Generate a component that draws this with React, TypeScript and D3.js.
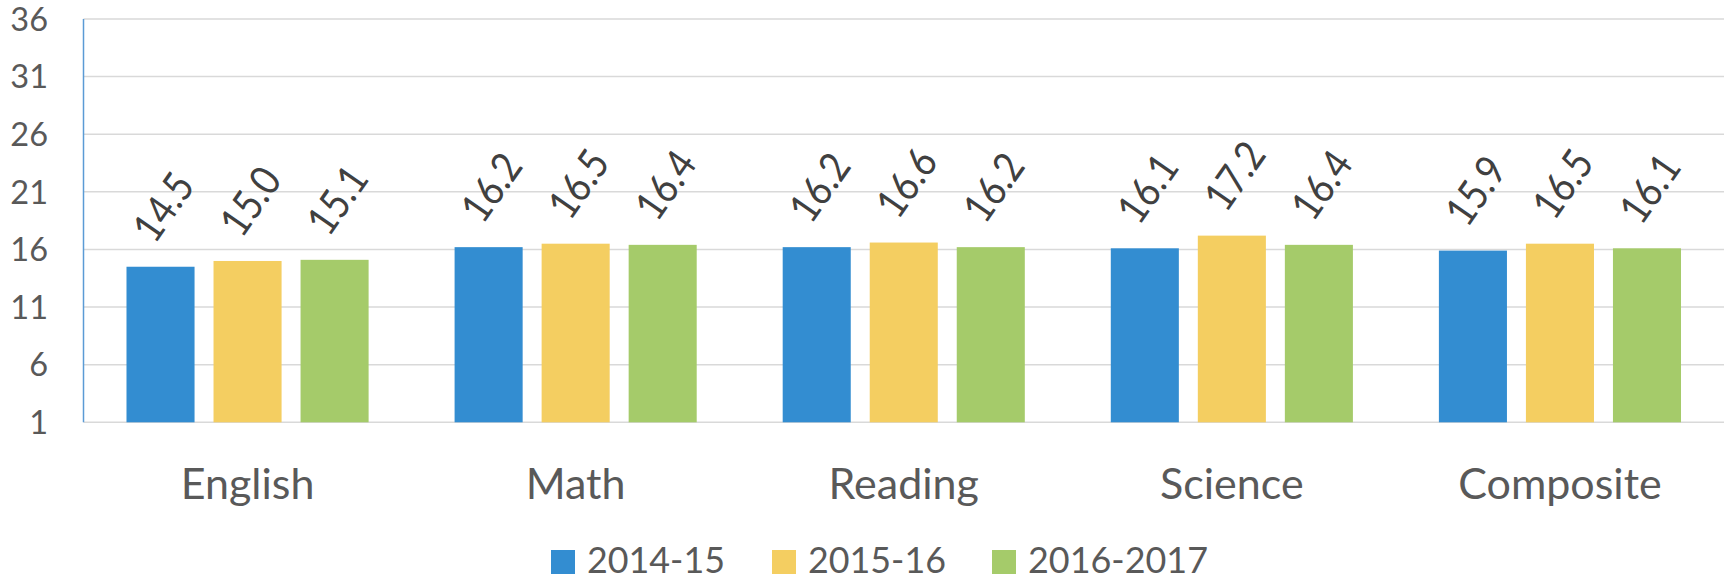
import React, { useEffect, useRef } from "react";
import * as d3 from "d3";

const categories = ["English", "Math", "Reading", "Science", "Composite"];
const seriesNames = ["2014-15", "2015-16", "2016-2017"];
const values2014 = [14.5, 16.2, 16.2, 16.1, 15.9];
const values2015 = [15.0, 16.5, 16.6, 17.2, 16.5];
const values2016 = [15.1, 16.4, 16.2, 16.4, 16.1];
const yTicks = [1, 6, 11, 16, 21, 26, 31, 36];
const colors = ["#338dd1", "#f4ce61", "#a5cb6a"];

const FONT = "Lato, 'Open Sans', sans-serif";

const Chart = () => {
  const svgRef = useRef<SVGSVGElement | null>(null);

  useEffect(() => {
    const svg = d3.select(svgRef.current);
    svg.selectAll("*").remove();

    const width = 1729;
    const height = 581;
    const left = 83.5;
    const right = 1724;
    const top = 19;
    const bottom = 422.3;

    const series = [values2014, values2015, values2016];

    const x = d3.scaleBand().domain(categories).range([left, right]);
    const xs = d3
      .scaleBand()
      .domain(seriesNames)
      .range([0, x.bandwidth()])
      .paddingInner(0.218)
      .paddingOuter(0.494);
    const y = d3.scaleLinear().domain([1, 36]).range([bottom, top]);

    svg.attr("width", width).attr("height", height);

    // gridlines
    svg
      .append("g")
      .selectAll("line")
      .data(yTicks)
      .enter()
      .append("line")
      .attr("x1", left)
      .attr("x2", right)
      .attr("y1", (d) => y(d))
      .attr("y2", (d) => y(d))
      .attr("stroke", "#d9d9d9")
      .attr("stroke-width", 1.5);

    // y tick labels
    svg
      .append("g")
      .selectAll("text")
      .data(yTicks)
      .enter()
      .append("text")
      .attr("x", 48)
      .attr("y", (d) => y(d))
      .attr("dy", "0.36em")
      .attr("text-anchor", "end")
      .attr("font-family", FONT)
      .attr("font-size", 32.5)
      .attr("fill", "#595959")
      .text((d) => d);

    // bars + value labels
    const groups = svg
      .append("g")
      .selectAll("g")
      .data(categories)
      .enter()
      .append("g")
      .attr("transform", (d) => `translate(${x(d)},0)`);

    series.forEach((vals, si) => {
      groups
        .append("rect")
        .attr("x", xs(seriesNames[si]) as number)
        .attr("width", xs.bandwidth())
        .attr("y", (_, i) => y(vals[i]))
        .attr("height", (_, i) => bottom - y(vals[i]))
        .attr("fill", colors[si]);

      groups
        .append("text")
        .attr("transform", (_, i) => {
          const cx = (xs(seriesNames[si]) as number) + xs.bandwidth() / 2 + 2.5;
          const cy = y(vals[i]) - 60;
          return `translate(${cx},${cy}) rotate(-55)`;
        })
        .attr("text-anchor", "middle")
        .attr("dy", "0.36em")
        .attr("font-family", FONT)
        .attr("font-size", 42)
        .attr("textLength", 72)
        .attr("lengthAdjust", "spacingAndGlyphs")
        .attr("fill", "#404040")
        .text((_, i) => vals[i].toFixed(1));
    });

    // left axis line
    svg
      .append("line")
      .attr("x1", left)
      .attr("x2", left)
      .attr("y1", top)
      .attr("y2", bottom)
      .attr("stroke", "#5b9bd5")
      .attr("stroke-width", 1.5);

    // category labels
    svg
      .append("g")
      .selectAll("text")
      .data(categories)
      .enter()
      .append("text")
      .attr("x", (d) => (x(d) as number) + x.bandwidth() / 2)
      .attr("y", 499)
      .attr("text-anchor", "middle")
      .attr("font-family", FONT)
      .attr("font-size", 43)
      .attr("fill", "#595959")
      .text((d) => d);

    // legend
    const legendX = [551, 772, 992];
    const legendW = [138, 138, 180];
    const legend = svg.append("g");
    seriesNames.forEach((name, i) => {
      legend
        .append("rect")
        .attr("x", legendX[i])
        .attr("y", 550)
        .attr("width", 24)
        .attr("height", 24)
        .attr("fill", colors[i]);
      legend
        .append("text")
        .attr("x", legendX[i] + 36)
        .attr("y", 573)
        .attr("font-family", FONT)
        .attr("font-size", 36)
        .attr("fill", "#595959")
        .attr("textLength", legendW[i])
        .attr("lengthAdjust", "spacingAndGlyphs")
        .text(name);
    });
  }, []);

  return <svg ref={svgRef}></svg>;
};

const App = () => {
  return (
    <div style={{ position: "absolute", left: 0, top: 0 }}>
      <Chart />
    </div>
  );
};

export default App;
